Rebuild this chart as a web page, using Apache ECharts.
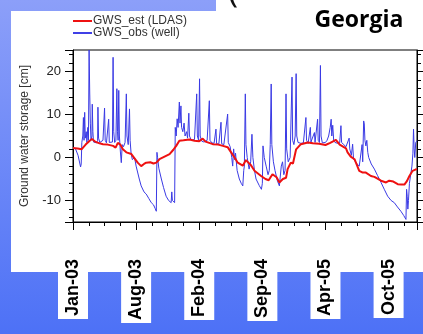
<!DOCTYPE html>
<html>
<head>
<meta charset="utf-8">
<script src="https://cdn.jsdelivr.net/npm/echarts@6/dist/echarts.min.js"></script>
<style>
  html, body { margin: 0; padding: 0; }
  #chart { width: 423px; height: 334px; }
</style>
</head>
<body>
<div id="chart"></div>
<script>
// days since 1 Jan 2003
var xTickLabels = ["Jan-03", "Aug-03", "Feb-04", "Sep-04", "Apr-05", "Oct-05"];

// GWS_est (LDAS), cm
var estDays = [0, 15, 27, 40, 53, 60, 70, 84, 95, 110, 127, 135, 142, 150, 158, 169, 185, 195, 205, 216,
  225, 232, 245, 255, 264, 274, 290, 306, 318, 327, 337, 350, 369, 385, 400, 411, 420, 443, 460, 475,
  490, 501, 512, 522, 538, 548, 554, 564, 575, 596, 610, 620, 632, 645, 654, 665, 675, 680, 690, 697,
  707, 722, 744, 760, 780, 800, 815, 833, 845, 865, 870, 880, 892, 907, 918, 928, 944, 955, 976, 992,
  1002, 1015, 1029, 1040, 1050, 1058, 1066, 1076, 1085, 1090];
var estValues = [2.2, 2.1, 1.9, 3.0, 3.9, 4.3, 3.7, 3.3, 3.1, 3.0, 2.7, 2.3, 3.4, 3.0, 1.9, 1.2, 0.8, -0.2, -1.2, -2.0,
  -1.5, -1.2, -1.1, -1.4, -1.2, -0.4, 0.2, 0.8, 1.8, 2.7, 3.9, 4.0, 4.2, 3.9, 3.8, 4.4, 3.7, 3.1, 3.0, 2.7,
  2.4, 1.2, 0.0, -1.2, -1.9, -0.6, -0.4, -1.8, -3.1, -4.3, -5.0, -5.3, -3.9, -4.6, -5.8, -5.0, -4.7, -2.7, -1.2, -1.4,
  1.9, 3.1, 3.5, 3.3, 3.2, 2.9, 3.4, 4.1, 3.0, 2.1, 1.2, 0.2, -0.4, -3.1, -3.5, -3.5, -4.3, -4.5, -5.4, -5.8,
  -5.4, -5.6, -6.2, -6.3, -6.3, -5.5, -4.3, -3.1, -2.8, -2.7];

// GWS_obs (well), cm
var obsDays = [0, 8, 16, 24, 26, 28, 31, 33, 35, 37, 39, 42, 44, 47, 49, 51, 53, 55, 57, 60,
  61, 63, 65, 70, 75, 78, 79, 81, 85, 90, 95, 98, 100, 102, 106, 110, 113, 115, 120, 125,
  127, 129, 132, 136, 139, 141, 143, 145, 147, 150, 153, 156, 160, 165, 169, 171, 175, 179, 181, 184,
  188, 195, 200, 210, 216, 225, 232, 240, 248, 255, 260, 264, 266, 268, 272, 280, 287, 295, 303, 311,
  313, 315, 322, 324, 327, 330, 333, 337, 339, 342, 344, 348, 352, 355, 360, 363, 367, 369, 375, 380,
  385, 392, 394, 398, 401, 403, 408, 415, 420, 425, 432, 434, 440, 447, 453, 455, 462, 469, 471, 478,
  483, 490, 492, 498, 503, 506, 509, 512, 515, 520, 527, 533, 538, 541, 543, 546, 548, 552, 558, 563,
  567, 570, 575, 580, 590, 597, 600, 602, 606, 612, 618, 622, 625, 628, 630, 635, 640, 648, 654, 656,
  660, 664, 668, 672, 675, 677, 682, 688, 694, 696, 700, 704, 707, 709, 713, 718, 722, 730, 736, 738,
  740, 745, 752, 754, 760, 765, 767, 772, 775, 777, 781, 784, 786, 790, 795, 800, 805, 810, 815, 818,
  820, 823, 826, 830, 838, 845, 849, 851, 858, 865, 870, 875, 877, 882, 886, 889, 895, 900, 907, 912,
  916, 918, 921, 923, 925, 928, 931, 934, 937, 945, 955, 965, 976, 987, 997, 1008, 1018, 1028, 1039, 1048,
  1055, 1057, 1059, 1061, 1063, 1066, 1070, 1074, 1077, 1079, 1081, 1083, 1086, 1090];
var obsValues = [2.3, 2.0, 0.5, -2.2, -1.5, 3.5, 5, 9.3, 4, 10.5, 4.5, 6, 3.5, 7, 4, 25, 15, 8, 4, 5,
  12.4, 6, 3.6, 3.5, 3.4, 4, 11.7, 4.5, 3.5, 3.3, 4, 3.6, 11.5, 4, 3.4, 3.3, 8.9, 3.5, 3.2, 3.6,
  23.3, 6, 3.5, 4, 16, 6, 4, 15.6, 5, 1.5, -1.2, 3, 2.5, 3.5, 14.8, 5, 3, 11.3, 4, 1,
  -0.5, 0, -2, -5, -6.6, -8, -8.5, -9.5, -10.5, -11, -11.8, -12.5, 1.2, 0, -2.5, -5, -7, -9, -10, -10.5,
  -8, -10, -10.5, 7, 5, 9, 7, 12.9, 8, 12, 7, 6, 8, 5, 6, 4.5, 10.3, 5, 4, 3.6,
  4.2, 14.8, 5, 4, 18.3, 5, 3.8, 3.6, 3.5, 4, 13.2, 4, 3.4, 3.3, 6.6, 3.2, 3.1, 8.2, 3.2, 3,
  3, 10.1, 3.5, 2.5, 0, -2, 2, -0.5, 1, -3, -5, -6, -6.6, -3, -2, 14.8, 3, 0, -2.7, -1,
  5.4, 0, -3, -5, -6.5, -7.4, -6, 2.7, 0, -2, -4, -3, 3, 17.1, 3, -1, -3, -5.5, -6.6, -5,
  -2, -1, -4, -3, 14.8, 2, -1, 0, 18.7, 4, 3, 5, 19.5, 5, 3.5, 3.5, 3.3, 3.4, 3.5, 9.3,
  4, 3.3, 7, 3.6, 3.4, 5.8, 3.5, 3.5, 8.9, 4, 3.5, 21.4, 5, 3.4, 3.2, 3.5, 4, 5, 7, 8.9,
  5, 7.5, 4, 3.5, 3.3, 3.4, 7.4, 3.5, 3, 2.5, 2.7, 4.5, 2, 0.5, 3.1, -0.4, -1, -1.5, -2, -2.2,
  3, -1, 8.5, 7.8, 4, 2.7, 4, 1.2, 0, -1.5, -2.7, -4.2, -5.8, -7.5, -9, -10, -10.5, -11.5, -12.5, -13.5,
  -14.4, -7.4, -9, -12, -10, -6, -4, -2, 1, 6.6, 2, 0, 3.5, 3.9];

function pairs(xs, ys) {
  return xs.map(function (x, i) { return [x, ys[i]]; });
}

var chart = echarts.init(document.getElementById("chart"));

var yAxisBase = {
  type: "value",
  min: -15,
  max: 25,
  splitNumber: 4,
  axisLine: { show: true, lineStyle: { color: "#000", width: 1 } },
  axisTick: { show: true, inside: false, length: 8, lineStyle: { color: "#000" } },
  minorTick: { show: true, splitNumber: 5, length: 4, lineStyle: { color: "#000" } },
  splitLine: { show: false },
};

var option = {
  animation: false,
  graphic: [
    {
      type: "rect",
      z: -100,
      shape: { x: 0, y: 0, width: 423, height: 334 },
      style: {
        fill: new echarts.graphic.LinearGradient(0, 0, 0, 1, [
          { offset: 0, color: "#8c9ff9" },
          { offset: 1, color: "#4d71f6" },
        ]),
      },
    },
    { type: "rect", z: -90, shape: { x: 11, y: 11, width: 412, height: 261 }, style: { fill: "#fff" } },
    { type: "rect", z: -90, shape: { x: 216, y: 0, width: 207, height: 12 }, style: { fill: "#fff" } },
    {
      type: "text",
      x: 359,
      y: 20,
      style: {
        text: "Georgia",
        fontSize: 23,
        fontWeight: "bold",
        fontFamily: "Open Sans",
        fill: "#000",
        align: "center",
        verticalAlign: "middle",
      },
    },
    {
      type: "text",
      x: 233,
      y: 9,
      style: {
        text: "(",
        fontSize: 34,
        fontFamily: "Open Sans",
        fill: "#111",
        align: "center",
        verticalAlign: "bottom",
      },
    },
  ],
  legend: {
    orient: "vertical",
    left: 68,
    top: 10,
    itemWidth: 19,
    itemHeight: 2,
    itemGap: 0,
    icon: "rect",
    textStyle: { fontSize: 12, color: "#333", fontFamily: "Liberation Sans", padding: [0, 0, 0, -4] },
    data: ["GWS_est (LDAS)", "GWS_obs (well)"],
  },
  grid: {
    left: 73,
    right: 6,
    top: 50,
    bottom: 112,
    show: true,
    backgroundColor: "#fff",
    borderColor: "#000",
    borderWidth: 1,
  },
  xAxis: {
    type: "value",
    min: 0,
    max: 1090,
    interval: 200,
    axisLine: { show: true, onZero: false, lineStyle: { color: "#000", width: 1 } },
    axisTick: { show: true, inside: false, length: 8, lineStyle: { color: "#000" } },
    minorTick: { show: true, splitNumber: 4, length: 4, lineStyle: { color: "#000" } },
    splitLine: { show: false },
    axisLabel: {
      rotate: 90,
      margin: 15,
      showMaxLabel: false,
      fontSize: 18,
      fontWeight: "bold",
      fontFamily: "Liberation Sans",
      color: "#000",
      backgroundColor: "#fff",
      padding: [6, 22, 6, 3],
      formatter: function (v) {
        return v % 200 === 0 ? xTickLabels[v / 200] || "" : "";
      },
    },
  },
  yAxis: [
    Object.assign({}, yAxisBase, {
      position: "left",
      name: "Ground water storage [cm]",
      nameLocation: "middle",
      nameGap: 42,
      nameTextStyle: { fontSize: 12, color: "#333", fontFamily: "Liberation Sans" },
      axisLabel: {
        margin: 12,
        fontSize: 13,
        color: "#222",
        fontFamily: "Liberation Sans",
        showMinLabel: false,
        showMaxLabel: false,
      },
    }),
    Object.assign({}, yAxisBase, {
      position: "right",
      axisLabel: { show: false },
    }),
  ],
  series: [
    {
      name: "GWS_est (LDAS)",
      type: "line",
      z: 3,
      symbol: "none",
      color: "#ee1111",
      lineStyle: { width: 2, color: "#ee1111" },
      data: pairs(estDays, estValues),
    },
    {
      name: "GWS_obs (well)",
      type: "line",
      z: 2,
      symbol: "none",
      color: "#4040e6",
      lineStyle: { width: 1, color: "#3a3ae4" },
      data: pairs(obsDays, obsValues),
    },
  ],
};

chart.setOption(option);
</script>
</body>
</html>
